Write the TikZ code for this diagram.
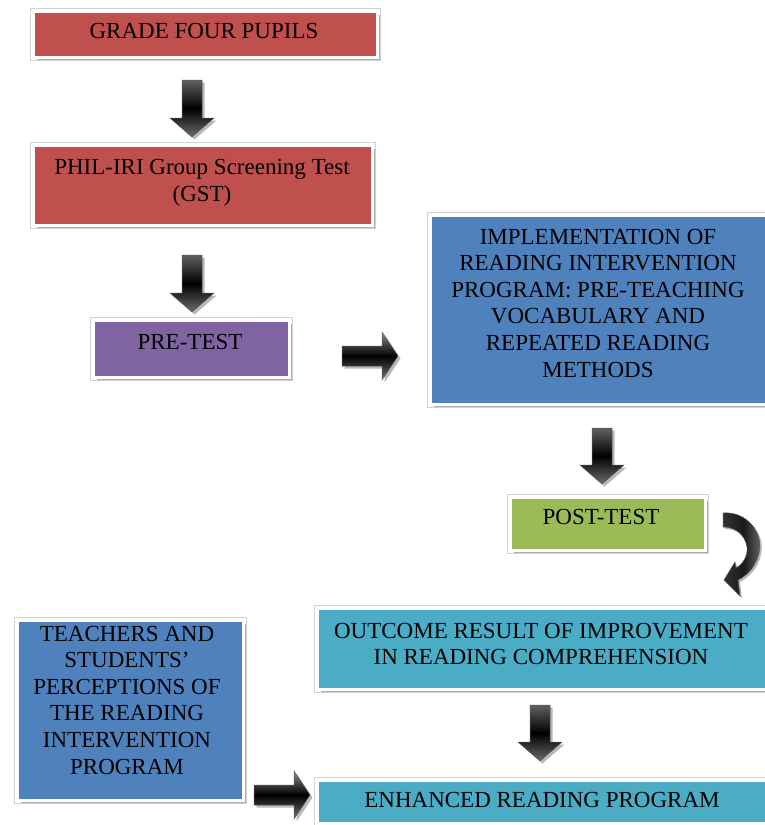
\documentclass[tikz,border=0pt]{standalone}
\usepackage{fontspec}
\setmainfont{Liberation Serif}
\newfontfamily\boxfont{Liberation Serif}
\usetikzlibrary{shadows}
\definecolor{cred}{HTML}{C0504D}
\definecolor{cpurple}{HTML}{8064A2}
\definecolor{cblue}{HTML}{4F81BD}
\definecolor{cgreen}{HTML}{9BBB59}
\definecolor{cteal}{HTML}{4BACC6}
\tikzset{
  box/.style={rectangle, draw=white, line width=3pt, inner sep=0pt,
    drop shadow={shadow xshift=4pt, shadow yshift=-4pt, fill=black!32, opacity=1}},
  frameline/.style={draw=black!18, line width=0.5pt},
  lbl/.style={align=center, inner sep=0pt, font=\boxfont\fontsize{23}{26.6}\selectfont, text=black},
  arrsh/.style={fill=black!28},
  dnarr/.style={top color=black!62, bottom color=black!58, middle color=black, draw=black!65, line width=0.5pt},
  rtarr/.style={top color=black!45, bottom color=black!55, middle color=black, draw=black!65, line width=0.5pt},
  curvarr/.style={left color=black!80, right color=black!55, middle color=black!90, draw=black!65, line width=0.5pt},
}
\newcommand\dnarrow[3]{%
  \begin{scope}[xshift=2.5pt,yshift=-2.5pt]
    \fill[arrsh] ({#1-10},{#2}) -- ({#1+10},{#2}) -- ({#1+10},{#3-19}) -- ({#1+22},{#3-19}) -- ({#1},{#3}) -- ({#1-22},{#3-19}) -- ({#1-10},{#3-19}) -- cycle;
  \end{scope}
  \shadedraw[dnarr] ({#1-10},{#2}) -- ({#1+10},{#2}) -- ({#1+10},{#3-19}) -- ({#1+22},{#3-19}) -- ({#1},{#3}) -- ({#1-22},{#3-19}) -- ({#1-10},{#3-19}) -- cycle;
}
\newcommand\rtarrow[3]{%
  \begin{scope}[xshift=2.5pt,yshift=-2.5pt]
    \fill[arrsh] ({#1},{#3-10}) -- ({#2-16},{#3-10}) -- ({#2-16},{#3-24}) -- ({#2},{#3}) -- ({#2-16},{#3+24}) -- ({#2-16},{#3+10}) -- ({#1},{#3+10}) -- cycle;
  \end{scope}
  \shadedraw[rtarr] ({#1},{#3-10}) -- ({#2-16},{#3-10}) -- ({#2-16},{#3-24}) -- ({#2},{#3}) -- ({#2-16},{#3+24}) -- ({#2-16},{#3+10}) -- ({#1},{#3+10}) -- cycle;
}
\begin{document}
\begin{tikzpicture}[x=1pt,y=-1pt]
\useasboundingbox (0,0) rectangle (765,825);
\fill[white] (0,0) rectangle (765,825);
\clip (0,0) rectangle (765,825);

% boxes
\node[box, fill=cred, minimum width=344, minimum height=46] (b1) at (205,34) {};
\node[box, fill=cred, minimum width=339, minimum height=80] (b2) at (202.5,185) {};
\node[box, fill=cpurple, minimum width=196, minimum height=57] (b3) at (191,348.5) {};
\node[box, fill=cblue, minimum width=360, minimum height=189] (b4) at (610,309.5) {};
\node[box, fill=cgreen, minimum width=195, minimum height=53] (b5) at (607.5,523.5) {};
\node[box, fill=cteal, minimum width=473, minimum height=81] (b6) at (553.5,648.5) {};
\node[box, fill=cblue, minimum width=226, minimum height=180] (b7) at (130,710) {};
\node[box, fill=cteal, minimum width=473, minimum height=43] (b8) at (553.5,801.5) {};

% faint outline round the white frames
\foreach \b in {b1,b2,b3,b4,b5,b6,b7,b8}
  \draw[frameline] ([shift={(-1.7,-1.7)}]\b.north west) rectangle ([shift={(1.7,1.7)}]\b.south east);

% labels
\node[lbl] (t1) at (204,31) {GRADE FOUR PUPILS};
\node[lbl] (t2) at (202,183) {PHIL-IRI Group Screening Test\\(GST)};
\node[lbl] (t3) at (190,342) {PRE-TEST};
\node[lbl] (t4) at (598,303) {IMPLEMENTATION OF\\READING INTERVENTION\\PROGRAM: PRE-TEACHING\\VOCABULARY AND\\REPEATED READING\\METHODS};
\node[lbl] (t5) at (601,517) {POST-TEST};
\node[lbl] (t6) at (541,644) {OUTCOME RESULT OF IMPROVEMENT\\IN READING COMPREHENSION};
\node[lbl] (t7) at (127,700) {TEACHERS AND\\STUDENTS’\\PERCEPTIONS OF\\THE READING\\INTERVENTION\\PROGRAM};
\node[lbl] (t8) at (542,800) {ENHANCED READING PROGRAM};

% block arrows
\dnarrow{192}{80}{137}
\dnarrow{192}{255}{312}
\dnarrow{602}{428}{484}
\dnarrow{540}{705}{761}
\rtarrow{342}{398}{356}
\rtarrow{254}{310}{795}

% curved arrow
\begin{scope}[xshift=2pt,yshift=-2pt]
\fill[arrsh] (723,513) .. controls (746,511) and (764,532) .. (759,553) .. controls (756,566) and (748,575) .. (738,580) -- (740,596) -- (724,580) -- (735,562) -- (736,568) .. controls (743,564) and (748,556) .. (747,547) .. controls (745,535) and (736,527) .. (723,527) -- cycle;
\end{scope}
\shadedraw[curvarr] (723,513) .. controls (746,511) and (764,532) .. (759,553) .. controls (756,566) and (748,575) .. (738,580) -- (740,596) -- (724,580) -- (735,562) -- (736,568) .. controls (743,564) and (748,556) .. (747,547) .. controls (745,535) and (736,527) .. (723,527) -- cycle;
\end{tikzpicture}
\end{document}
